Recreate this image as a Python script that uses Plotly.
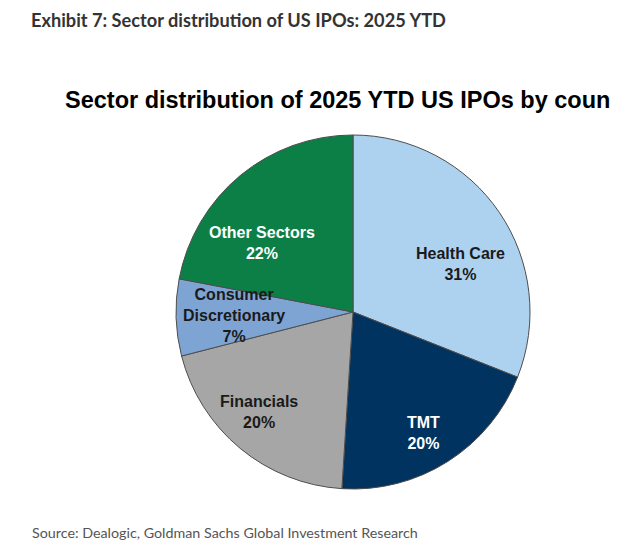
import math
import plotly.graph_objects as go

# ---- data ----
sectors = ["Health Care", "TMT", "Financials", "Consumer<br>Discretionary", "Other Sectors"]
shares = [31, 20, 20, 7, 22]

# ---- styles ----
colors = ["#ADD2EF", "#00335F", "#A6A6A6", "#7EA4D3", "#0B7F45"]
text_colors = ["#1A1A1A", "#FFFFFF", "#1A1A1A", "#1A1A1A", "#FFFFFF"]
label_r = [0.665, 0.79, 0.775, 0.672, 0.646]   # radial position of labels (fraction of radius)
label_dang = [10.0, 2.2, 3.5, 0.0, -13.3]       # angular nudge of labels from the slice bisector (deg)

W, H = 620, 553
OFF = 8                      # page body margin of the browser
cx, cy, R = 353 - OFF, 312 - OFF, 177   # pie centre / radius in pixels (from top-left)
dom_x = [(cx - R) / W, (cx + R) / W]
dom_y = [1 - (cy + R) / H, 1 - (cy - R) / H]

fig = go.Figure(go.Pie(
    labels=sectors,
    values=shares,
    sort=False,
    direction="clockwise",
    rotation=0,
    marker=dict(colors=colors, line=dict(color="#4D4D4D", width=1)),
    textinfo="none",
    hoverinfo="label+percent",
    showlegend=False,
    domain=dict(x=dom_x, y=dom_y),
))

annotations = []
total = sum(shares)
cum = 0
for name, v, tc, rf, da in zip(sectors, shares, text_colors, label_r, label_dang):
    mid = (cum + v / 2) / total * 2 * math.pi + math.radians(da)
    cum += v
    px = cx + rf * R * math.sin(mid)
    py = cy - rf * R * math.cos(mid)
    annotations.append(dict(
        x=px / W, y=1 - py / H, xref="paper", yref="paper",
        text=f"<b>{name}<br>{round(v / total * 100)}%</b>",
        showarrow=False, xanchor="center", yanchor="middle",
        font=dict(family="Liberation Sans, Arial", size=16, color=tc),
        align="center",
    ))

annotations += [
    dict(x=(30 - OFF) / W, y=1, xref="paper", yref="paper",
         xanchor="left", yanchor="top", borderpad=0,
         text="<b>Exhibit 7: Sector distribution of US IPOs: 2025 YTD</b>", showarrow=False,
         font=dict(family="Lato", size=18.2, color="#333333")),
    dict(x=(63 - OFF) / W, y=1 - (100 - OFF) / H, xref="paper", yref="paper",
         xanchor="left", yanchor="middle",
         text="<b>Sector distribution of 2025 YTD US IPOs by coun</b>", showarrow=False,
         font=dict(family="Liberation Sans, Arial", size=23.5, color="#000000")),
    dict(x=(30 - OFF) / W, y=1 - (532 - OFF) / H, xref="paper", yref="paper",
         xanchor="left", yanchor="middle",
         text="Source: Dealogic, Goldman Sachs Global Investment Research", showarrow=False,
         font=dict(family="Lato", size=14.3, color="#555555")),
]

fig.update_layout(
    width=W, height=H,
    margin=dict(l=0, r=0, t=0, b=0),
    paper_bgcolor="#FFFFFF",
    plot_bgcolor="#FFFFFF",
    annotations=annotations,
)

fig.write_html("out.html")
